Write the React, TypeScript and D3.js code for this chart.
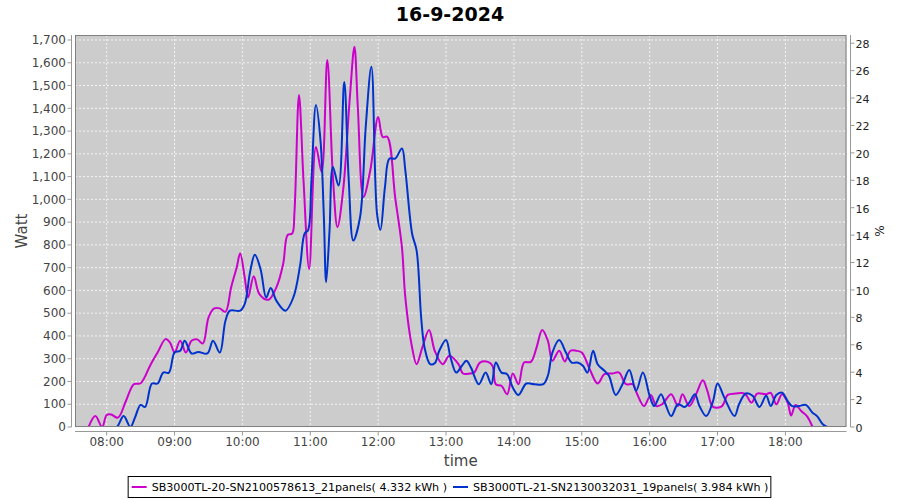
import React, { useEffect, useRef } from 'react';
import * as d3 from 'd3';

const chartTitle = '16-9-2024';
const seriesNames = [
  'SB3000TL-20-SN2100578613_21panels( 4.332 kWh )',
  'SB3000TL-21-SN2130032031_19panels( 3.984 kWh )',
];
const seriesColors = ['#cc00cc', '#0033cc'];
const hourTicks = ['08:00', '09:00', '10:00', '11:00', '12:00', '13:00', '14:00', '15:00', '16:00', '17:00', '18:00'];
const wattTicks = [0, 100, 200, 300, 400, 500, 600, 700, 800, 900, 1000, 1100, 1200, 1300, 1400, 1500, 1600, 1700];
const pctTicks = [0, 2, 4, 6, 8, 10, 12, 14, 16, 18, 20, 22, 24, 26, 28];
const xDomain = ['07:32', '18:54'];
const wattDomain = [0, 1722];
const pctDomain = [0, 28.6];

const magentaTimes = [
  '07:44', '07:50', '07:56', '08:00', '08:04', '08:10', '08:17', '08:24', '08:30', '08:39', '08:45', '08:52', '08:56',
  '09:00', '09:05', '09:10', '09:15', '09:20', '09:25', '09:30', '09:35', '09:40', '09:45', '09:50', '09:55', '09:58',
  '10:02', '10:05', '10:10', '10:15', '10:23', '10:30', '10:36', '10:40', '10:44', '10:46', '10:50', '10:54', '10:59',
  '11:05', '11:10', '11:15', '11:20', '11:24', '11:29', '11:35', '11:39', '11:42', '11:47', '11:53', '12:00', '12:04',
  '12:08', '12:15', '12:21', '12:24', '12:30', '12:34', '12:39', '12:45', '12:50', '12:57', '13:03', '13:11', '13:15',
  '13:21', '13:25', '13:30', '13:37', '13:41', '13:44', '13:49', '13:54', '13:59', '14:04', '14:09', '14:15', '14:20',
  '14:25', '14:30', '14:34', '14:40', '14:45', '14:50', '14:55', '15:00', '15:07', '15:14', '15:20', '15:27', '15:33',
  '15:39', '15:45', '15:49', '15:55', '16:01', '16:06', '16:11', '16:19', '16:25', '16:29', '16:35', '16:41', '16:47',
  '16:51', '16:56', '17:04', '17:09', '17:16', '17:24', '17:30', '17:35', '17:43', '17:47', '17:52', '17:57', '18:02',
  '18:05', '18:09', '18:14', '18:19', '18:24',
];
const magentaWatts = [
  0, 48, 0, 53, 55, 41, 114, 188, 192, 276, 327, 386, 371,
  327, 379, 327, 379, 385, 367, 481, 521, 521, 506, 613, 702, 763,
  658, 569, 662, 584, 559, 613, 716, 844, 850, 944, 1458, 1083, 694,
  1230, 1120, 1612, 1098, 878, 1039, 1450, 1670, 1406, 1010, 1127, 1362, 1274,
  1275, 1010, 790, 569, 349, 276, 349, 426, 335, 276, 313, 276, 235,
  235, 240, 283, 286, 269, 188, 181, 144, 235, 188, 283, 286, 349,
  426, 379, 291, 335, 288, 335, 335, 327, 254, 191, 232, 235, 239,
  188, 188, 144, 92, 141, 92, 100, 144, 92, 144, 92, 144, 205,
  159, 88, 92, 141, 147, 147, 107, 147, 144, 150, 100, 144, 107,
  51, 97, 70, 48, 0,
];

const blueTimes = [
  '08:05', '08:09', '08:15', '08:21', '08:25', '08:30', '08:34', '08:40', '08:45', '08:50', '08:55', '09:00', '09:05',
  '09:09', '09:15', '09:21', '09:29', '09:34', '09:40', '09:45', '09:49', '09:58', '10:02', '10:07', '10:11', '10:16',
  '10:21', '10:25', '10:30', '10:38', '10:45', '10:51', '10:55', '10:58', '11:01', '11:05', '11:09', '11:12', '11:14',
  '11:17', '11:20', '11:25', '11:30', '11:34', '11:38', '11:44', '11:49', '11:54', '11:59', '12:02', '12:06', '12:10',
  '12:15', '12:21', '12:24', '12:30', '12:34', '12:38', '12:41', '12:46', '12:50', '12:54', '13:00', '13:04', '13:09',
  '13:14', '13:18', '13:22', '13:29', '13:35', '13:40', '13:44', '13:49', '13:54', '13:59', '14:04', '14:11', '14:18',
  '14:26', '14:30', '14:34', '14:40', '14:46', '14:51', '14:56', '15:01', '15:05', '15:10', '15:14', '15:20', '15:24',
  '15:30', '15:36', '15:42', '15:48', '15:54', '16:00', '16:04', '16:10', '16:14', '16:19', '16:25', '16:31', '16:35',
  '16:40', '16:44', '16:50', '16:56', '17:00', '17:06', '17:15', '17:19', '17:25', '17:31', '17:37', '17:43', '17:47',
  '17:52', '17:57', '18:02', '18:06', '18:12', '18:18', '18:24', '18:28', '18:33', '18:37',
];
const blueWatts = [
  0, 0, 48, 0, 41, 97, 88, 191, 191, 239, 239, 327, 335,
  379, 323, 330, 323, 379, 327, 467, 511, 511, 540, 687, 757, 694,
  569, 611, 555, 511, 569, 710, 850, 864, 1083, 1414, 1260, 922, 636,
  863, 1142, 1061, 1516, 1083, 819, 922, 1318, 1582, 937, 866, 1054, 1179,
  1179, 1223, 1127, 849, 775, 481, 349, 276, 280, 335, 382, 305, 239,
  269, 291, 261, 188, 239, 188, 283, 239, 232, 173, 141, 191, 188,
  188, 225, 327, 382, 327, 283, 283, 269, 239, 335, 276, 247, 225,
  141, 188, 250, 159, 239, 137, 92, 144, 100, 48, 100, 88, 107,
  144, 92, 48, 114, 191, 129, 48, 100, 147, 137, 88, 137, 92,
  141, 151, 114, 92, 92, 97, 63, 48, 12, 0,
];

const toMin = (s: string) => {
  const [h, m] = s.split(':').map(Number);
  return h * 60 + m;
};

const W = 900;
const H = 500;
const plotL = 75;
const plotR = 846.5;
const plotT = 35;
const plotB = 427;
const font = 'DejaVu Sans, sans-serif';

export default function App() {
  const ref = useRef<SVGSVGElement | null>(null);

  useEffect(() => {
    document.body.style.margin = '0';
    const svg = d3.select(ref.current);
    svg.selectAll('*').remove();

    const x = d3.scaleLinear().domain(xDomain.map(toMin)).range([plotL, plotR]);
    const y = d3.scaleLinear().domain(wattDomain).range([plotB, plotT]);
    const y2 = d3.scaleLinear().domain(pctDomain).range([plotB, plotT]);

    svg.append('rect').attr('width', W).attr('height', H).attr('fill', '#ffffff');

    // title
    svg.append('text')
      .attr('x', W / 2).attr('y', 21)
      .attr('text-anchor', 'middle')
      .attr('font-family', font).attr('font-weight', 'bold').attr('font-size', 19)
      .attr('fill', '#000')
      .text(chartTitle);

    // plot background
    svg.append('rect')
      .attr('x', plotL).attr('y', plotT)
      .attr('width', plotR - plotL).attr('height', plotB - plotT)
      .attr('fill', '#cccccc');

    const grid = svg.append('g').attr('stroke', '#f4f4f4').attr('stroke-width', 1).attr('stroke-dasharray', '2,2');
    wattTicks.forEach((v) => {
      grid.append('line').attr('x1', plotL).attr('x2', plotR).attr('y1', y(v)).attr('y2', y(v));
    });
    hourTicks.forEach((t) => {
      grid.append('line').attr('y1', plotT).attr('y2', plotB).attr('x1', x(toMin(t))).attr('x2', x(toMin(t)));
    });

    // series
    const clip = svg.append('defs').append('clipPath').attr('id', 'plotclip');
    clip.append('rect').attr('x', plotL).attr('y', plotT).attr('width', plotR - plotL).attr('height', plotB - plotT);

    const series = [
      { times: magentaTimes, vals: magentaWatts, color: seriesColors[0] },
      { times: blueTimes, vals: blueWatts, color: seriesColors[1] },
    ];
    const line = d3.line<[number, number]>()
      .x((d) => x(d[0]))
      .y((d) => y(d[1]))
      .curve(d3.curveCatmullRom.alpha(0.5));
    const gSeries = svg.append('g').attr('clip-path', 'url(#plotclip)');
    series.forEach((s) => {
      const pts: [number, number][] = s.times.map((t, i) => [toMin(t), s.vals[i]]);
      gSeries.append('path')
        .attr('d', line(pts) || '')
        .attr('fill', 'none')
        .attr('stroke', s.color)
        .attr('stroke-width', 2)
        .attr('stroke-linejoin', 'round');
    });

    // plot outline
    svg.append('rect')
      .attr('x', plotL + 0.5).attr('y', plotT + 0.5)
      .attr('width', plotR - plotL - 1).attr('height', plotB - plotT - 1)
      .attr('fill', 'none').attr('stroke', '#808080').attr('stroke-width', 1);

    const tickColor = '#444444';
    const axisColor = '#999999';

    // left axis
    const gl = svg.append('g');
    const lx = 71.5;
    gl.append('line').attr('x1', lx).attr('x2', lx).attr('y1', plotT).attr('y2', plotB).attr('stroke', axisColor);
    wattTicks.forEach((v) => {
      gl.append('line').attr('x1', lx - 4).attr('x2', lx).attr('y1', y(v)).attr('y2', y(v)).attr('stroke', axisColor);
      gl.append('text')
        .attr('x', lx - 5.5).attr('y', y(v)).attr('dy', '0.35em')
        .attr('text-anchor', 'end')
        .attr('font-family', font).attr('font-size', 12).attr('fill', tickColor)
        .text(d3.format(',')(v));
    });
    gl.append('text')
      .attr('transform', `translate(27,${(plotT + plotB) / 2}) rotate(-90)`)
      .attr('text-anchor', 'middle')
      .attr('font-family', font).attr('font-size', 15).attr('fill', '#444444')
      .text('Watt');

    // right axis
    const gr = svg.append('g');
    const rx = 850.5;
    gr.append('line').attr('x1', rx).attr('x2', rx).attr('y1', plotT).attr('y2', plotB).attr('stroke', axisColor);
    pctTicks.forEach((v) => {
      gr.append('line').attr('x1', rx).attr('x2', rx + 4).attr('y1', y2(v)).attr('y2', y2(v)).attr('stroke', axisColor);
      gr.append('text')
        .attr('x', rx + 5).attr('y', y2(v) + 1).attr('dy', '0.35em')
        .attr('text-anchor', 'start')
        .attr('font-family', font).attr('font-size', 11).attr('fill', '#222222')
        .text(String(v));
    });
    gr.append('text')
      .attr('transform', `translate(884,${(plotT + plotB) / 2}) rotate(-90)`)
      .attr('text-anchor', 'middle')
      .attr('font-family', font).attr('font-size', 12).attr('fill', '#222222')
      .text('%');

    // bottom axis
    const gb = svg.append('g');
    const by = 431.5;
    gb.append('line').attr('x1', plotL).attr('x2', plotR).attr('y1', by).attr('y2', by).attr('stroke', axisColor);
    hourTicks.forEach((t) => {
      const xx = x(toMin(t));
      gb.append('line').attr('x1', xx).attr('x2', xx).attr('y1', by).attr('y2', by + 4).attr('stroke', axisColor);
      gb.append('text')
        .attr('x', xx).attr('y', by + 14)
        .attr('text-anchor', 'middle')
        .attr('font-family', font).attr('font-size', 12).attr('fill', tickColor)
        .text(t);
    });
    gb.append('text')
      .attr('x', (plotL + plotR) / 2).attr('y', 466)
      .attr('text-anchor', 'middle')
      .attr('font-family', font).attr('font-size', 15).attr('fill', '#444444')
      .text('time');

    // legend
    const gLeg = svg.append('g');
    const sampleW = 17;
    const gapAfterSample = 3;
    const gapBetween = 6;
    const items = seriesNames.map((name, i) => {
      const g = gLeg.append('g');
      const txt = g.append('text')
        .attr('font-family', font).attr('font-size', 11.1).attr('fill', '#000')
        .text(name);
      const w = (txt.node() as SVGTextElement).getComputedTextLength();
      return { g, txt, w, color: seriesColors[i] };
    });
    const total = items.reduce((a, it) => a + sampleW + gapAfterSample + it.w, 0) + gapBetween * (items.length - 1);
    let cx = W / 2 - total / 2;
    const legY = 487;
    items.forEach((it) => {
      it.g.append('line')
        .attr('x1', cx).attr('x2', cx + sampleW - 2)
        .attr('y1', legY).attr('y2', legY)
        .attr('stroke', it.color).attr('stroke-width', 2);
      it.g.append('rect')
        .attr('x', cx + sampleW / 2 - 2).attr('y', legY - 1).attr('width', 3).attr('height', 2)
        .attr('fill', it.color);
      it.txt.attr('x', cx + sampleW + gapAfterSample).attr('y', legY + 4);
      cx += sampleW + gapAfterSample + it.w + gapBetween;
    });
    gLeg.insert('rect', ':first-child')
      .attr('x', W / 2 - total / 2 - 3.5).attr('y', 476.5)
      .attr('width', total + 6).attr('height', 21)
      .attr('fill', '#fff').attr('stroke', '#000').attr('stroke-width', 1);
  }, []);

  return (
    <svg
      ref={ref}
      width={W}
      height={H}
      style={{ position: 'absolute', left: 0, top: 0, display: 'block' }}
    />
  );
}
